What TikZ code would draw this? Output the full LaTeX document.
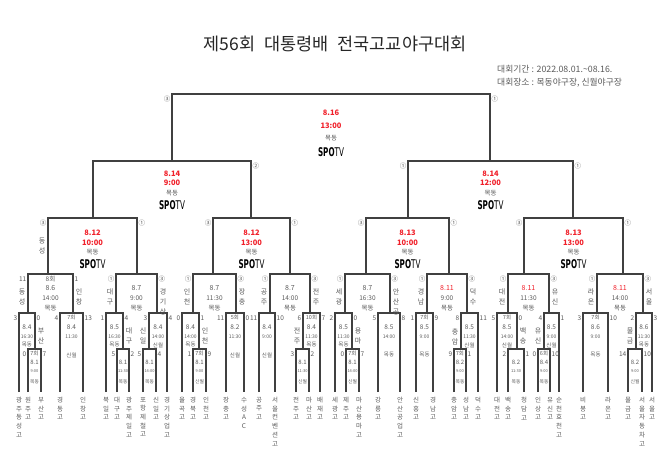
\documentclass[tikz,border=0pt]{standalone}
\usepackage{fontspec}
\setmainfont{Noto Sans CJK KR}
\newfontfamily\spofont[FakeStretch=0.6]{DejaVu Sans}
\usetikzlibrary{positioning}

\definecolor{lineg}{HTML}{404040}
\definecolor{txtg}{HTML}{5A5A5A}
\definecolor{datered}{HTML}{F0202A}

% one game: name, left x, right x, top y, left foot, right foot, left score, right score
\newcommand{\gm}[8]{%
  \coordinate (#1) at ({(#2+#3)/2},#4);
  \draw[bracket] (#2,#5) -- (#2,#4) -- (#3,#4) -- (#3,#6);
  \node[score,anchor=east] (#1-ls) at (#2-1.5,#4+5.5) {#7};
  \node[score,anchor=west] (#1-rs) at (#3+1.5,#4+5.5) {#8};}
\newcommand{\spotv}{{\spofont\bfseries SPO}{\spofont TV}}

\begin{document}
\begin{tikzpicture}[x=1pt,y=-1pt]
	\tikzstyle{bracket}=[draw=lineg, line width=1.3pt]
	\tikzstyle{score}=[inner sep=0, text=txtg, font=\fontsize{6.5}{7}\selectfont]
	\tikzstyle{bigred}=[inner sep=0, text=datered, font=\fontsize{7.5}{8}\selectfont\bfseries]
	\tikzstyle{bigven}=[inner sep=0, text=txtg, font=\fontsize{6.5}{7}\selectfont]
	\tikzstyle{logo}=[inner sep=0, text=black, font=\fontsize{12}{12}\selectfont]
	\tikzstyle{mdate}=[inner sep=0, font=\fontsize{7}{8}\selectfont]
	\tikzstyle{mtime}=[inner sep=0, text=txtg, font=\fontsize{6.5}{7}\selectfont]
	\tikzstyle{mven}=[inner sep=0, text=txtg, font=\fontsize{6.5}{7}\selectfont]
	\tikzstyle{sdate}=[inner sep=0, text=txtg, font=\fontsize{6.5}{7}\selectfont]
	\tikzstyle{stime}=[inner sep=0, text=txtg, font=\fontsize{5}{6}\selectfont]
	\tikzstyle{sven}=[inner sep=0, text=txtg, font=\fontsize{5.5}{6}\selectfont]
	\tikzstyle{tdate}=[inner sep=0, text=txtg, font=\fontsize{6}{7}\selectfont]
	\tikzstyle{ttime}=[inner sep=0, text=txtg, font=\fontsize{4}{5}\selectfont]
	\tikzstyle{tven}=[inner sep=0, text=txtg, font=\fontsize{4.8}{5}\selectfont]
	\tikzstyle{snote}=[inner sep=0, text=txtg, font=\fontsize{5.5}{6}\selectfont]
	\tikzstyle{winner}=[inner sep=0, anchor=north, align=center, text=txtg, font=\fontsize{7}{10}\selectfont]
	\tikzstyle{team}=[inner sep=0, anchor=north, align=center, text=txtg, font=\fontsize{6.5}{8.7}\selectfont]
	\tikzstyle{info}=[inner sep=0, text=txtg, font=\fontsize{8.8}{10}\selectfont]
	\useasboundingbox (0,0) rectangle (670,459);

	% title
	\node[text=black!85, font=\fontsize{17.5}{19}\selectfont] (title) at (335,44) {제56회\hspace{9pt}대통령배\hspace{9pt}전국고교야구대회};
	\node[info, anchor=west] (period) at (497,69) {대회기간 : 2022.08.01.\textasciitilde08.16.};
	\node[info, below=5pt of period.south west, anchor=north west] (place) {대회장소 : 목동야구장, 신월야구장};

	% final, semis, quarters
	\gm{fin}{172}{490}{94}{161}{161}{③}{①}
	\gm{sfl}{93}{251}{161}{218}{218}{}{②}
	\gm{sfr}{408}{573}{161}{218}{218}{①}{①}
	\gm{qf1}{48}{137}{218}{274}{274}{③}{①}
	\gm{qf2}{213}{290}{218}{274}{274}{③}{①}
	\gm{qf3}{366}{449}{218}{274}{274}{③}{①}
	\gm{qf4}{524}{623}{218}{274}{274}{③}{①}

	% round of 16
	\gm{r16a}{28}{73}{274}{313}{313}{11}{1}
	\gm{r16b}{116}{157}{274}{313}{313}{①}{③}
	\gm{r16c}{193}{236}{274}{313}{313}{①}{③}
	\gm{r16d}{270}{310}{274}{313}{313}{①}{③}
	\gm{r16e}{345}{390}{274}{313}{313}{①}{③}
	\gm{r16f}{427}{467}{274}{313}{313}{①}{③}
	\gm{r16g}{508}{549}{274}{313}{313}{①}{③}
	\gm{r16h}{597}{643}{274}{313}{313}{①}{③}

	% round of 32
	\gm{r32a}{19}{35}{313}{392}{349}{3}{0}
	\gm{r32b}{60}{83}{313}{392}{392}{4}{13}
	\gm{r32c}{106}{123}{313}{392}{349}{1}{4}
	\gm{r32d}{149}{167}{313}{349}{392}{3}{4}
	\gm{r32e}{182}{199}{313}{392}{349}{0}{1}
	\gm{r32f}{226}{244}{313}{392}{392}{11}{0}
	\gm{r32g}{259}{275}{313}{392}{392}{11}{10}
	\gm{r32h}{303}{320}{313}{349}{392}{6}{7}
	\gm{r32i}{335}{352}{313}{392}{349}{2}{0}
	\gm{r32j}{378}{400}{313}{392}{392}{5}{8}
	\gm{r32k}{416}{433}{313}{392}{392}{1}{9}
	\gm{r32l}{461}{478}{313}{349}{392}{8}{11}
	\gm{r32m}{497}{517}{313}{392}{349}{5}{0}
	\gm{r32n}{544}{559}{313}{349}{392}{4}{1}
	\gm{r32o}{583}{608}{313}{392}{392}{3}{10}
	\gm{r32p}{636}{652}{313}{349}{392}{2}{3}

	% first round
	\gm{r64a}{28}{41}{349}{392}{392}{0}{7}
	\gm{r64c}{117}{129}{349}{392}{392}{5}{2}
	\gm{r64d}{143}{156}{349}{392}{392}{5}{4}
	\gm{r64e}{193}{206}{349}{392}{392}{1}{9}
	\gm{r64h}{296}{309}{349}{392}{392}{3}{2}
	\gm{r64i}{346}{359}{349}{392}{392}{0}{7}
	\gm{r64l}{454}{466}{349}{392}{392}{9}{1}
	\gm{r64m}{508}{524}{349}{392}{392}{2}{1}
	\gm{r64n}{538}{550}{349}{392}{392}{0}{10}
	\gm{r64p}{628}{642}{349}{392}{392}{14}{10}

	% broadcast games
	\foreach \gn/\gd/\gt/\ga/\gb/\gc/\ge in {fin/8.16/13:00/19/32/44/58, sfl/8.14/9:00/13/22/32/44, sfr/8.14/12:00/13/22/32/44,
		qf1/8.12/10:00/15/25/34/46, qf2/8.12/13:00/15/25/34/46, qf3/8.13/10:00/15/25/34/46, qf4/8.13/13:00/15/25/34/46}{
		\node[bigred] (\gn-d) at ([yshift=-\ga pt]\gn) {\gd};
		\node[bigred] (\gn-t) at ([yshift=-\gb pt]\gn) {\gt};
		\node[bigven] (\gn-v) at ([yshift=-\gc pt]\gn) {목동};
		\node[logo] (\gn-tv) at ([yshift=-\ge pt]\gn) {\spotv};
	}

	\foreach \gn/\gcol/\gd/\gt in {r16a/txtg/8.6/14:00, r16b/txtg/8.7/9:00, r16c/txtg/8.7/11:30, r16d/txtg/8.7/14:00,
		r16e/txtg/8.7/16:30, r16f/datered/8.11/9:00, r16g/datered/8.11/11:30, r16h/datered/8.11/14:00}{
		\node[mdate, text=\gcol] (\gn-d) at ([yshift=-14pt]\gn) {\gd};
		\node[mtime] (\gn-t) at ([yshift=-24pt]\gn) {\gt};
		\node[mven] (\gn-v) at ([yshift=-34pt]\gn) {목동};
	}

	\foreach \gn/\gd/\gt/\gv/\gy in {r32a/8.4/16:30/목동/32, r32b/8.4/11:30/신월/42, r32c/8.5/16:30/목동/32, r32d/8.4/14:00/신월/32,
		r32e/8.4/14:00/목동/32, r32f/8.2/11:30/신월/42, r32g/8.4/9:00/신월/42, r32h/8.4/11:30/목동/32,
		r32i/8.5/11:30/목동/32, r32j/8.5/14:00/목동/42, r32k/8.5/9:00/목동/42, r32l/8.5/11:30/신월/32,
		r32m/8.5/14:00/신월/32, r32n/8.5/9:00/신월/32, r32o/8.6/9:00/목동/42, r32p/8.6/11:30/목동/32}{
		\node[sdate] (\gn-d) at ([yshift=-14pt]\gn) {\gd};
		\node[stime] (\gn-t) at ([yshift=-24pt]\gn) {\gt};
		\node[sven] (\gn-v) at ([yshift=-\gy pt]\gn) {\gv};
	}

	\foreach \gn/\gd/\gt/\gv in {r64a/8.1/9:00/목동, r64c/8.1/11:30/목동, r64d/8.1/14:00/목동, r64e/8.1/9:00/신월,
		r64h/8.1/11:30/신월, r64i/8.1/14:00/신월, r64l/8.2/9:00/목동, r64m/8.2/11:30/목동,
		r64n/8.4/9:00/목동, r64p/8.2/9:00/신월}{
		\node[tdate] (\gn-d) at ([yshift=-13pt]\gn) {\gd};
		\node[ttime] (\gn-t) at ([yshift=-22pt]\gn) {\gt};
		\node[tven] (\gn-v) at ([yshift=-33pt]\gn) {\gv};
	}

	% shortened games
	\node[mtime] (r16a-n) at ([yshift=-5pt]r16a) {8회};
	\foreach \gn/\gx in {r32b/7회, r32f/5회, r32h/10회, r32k/7회, r32m/7회, r32o/7회,
		r64a/7회, r64e/7회, r64i/7회, r64l/7회, r64n/6회}
		\node[snote] (\gn-n) at ([yshift=-4.5pt]\gn) {\gx};

	% who went up each line
	\foreach \gx/\gy/\gn/\gt in {42/238/w1/동\\성,
		22/288.5/w2/동\\성, 79/288.5/w3/인\\창, 110/288.5/w4/대\\구, 163/288.5/w5/경\\기\\상,
		187/288.5/w6/인\\천, 242/288.5/w7/장\\충, 264/288.5/w8/공\\주, 316/288.5/w9/전\\주,
		339/288.5/w10/세\\광, 396/288.5/w11/안\\산\\공, 421/288.5/w12/경\\남, 473/288.5/w13/덕\\수,
		502/288.5/w14/대\\전, 555/288.5/w15/유\\신, 591/288.5/w16/라\\온, 649/288.5/w17/서\\울,
		41/328/w18/부\\산, 129/328/w19/대\\구, 143/328/w20/신\\일, 205/328/w21/인\\천, 297/328/w22/전\\주,
		358/328/w23/용\\마, 455/328/w24/충\\암, 523/328/w25/백\\송, 538/328/w26/유\\신, 630/328/w27/물\\금}
		\node[winner] (\gn) at (\gx,\gy) {\gt};

	% schools
	\foreach \gx/\gn/\gt in {19/t1/광\\주\\동\\성\\고, 28/t2/원\\주\\고, 41/t3/부\\산\\고, 60/t4/경\\동\\고, 83/t5/인\\창\\고,
		106/t6/북\\일\\고, 117/t7/대\\구\\고, 129/t8/광\\주\\제\\일\\고, 143/t9/포\\항\\제\\철\\고, 156/t10/신\\일\\고,
		167/t11/경\\기\\상\\업\\고, 182/t12/율\\곡\\고, 193/t13/경\\북\\고, 206/t14/인\\천\\고, 226/t15/장\\충\\고,
		244/t16/수\\성\\A\\C, 259/t17/공\\주\\고, 275/t18/서\\울\\컨\\벤\\션\\고, 296/t19/전\\주\\고, 309/t20/마\\산\\고,
		320/t21/배\\재\\고, 335/t22/세\\광\\고, 346/t23/제\\주\\고, 359/t24/마\\산\\용\\마\\고, 378/t25/강\\릉\\고,
		400/t26/안\\산\\공\\업\\고, 416/t27/신\\흥\\고, 433/t28/경\\남\\고, 454/t29/충\\암\\고, 466/t30/성\\남\\고,
		478/t31/덕\\수\\고, 497/t32/대\\전\\고, 508/t33/백\\송\\고, 524/t34/청\\담\\고, 538/t35/인\\상\\고,
		550/t36/유\\신\\고, 559/t37/순\\천\\효\\천\\고, 583/t38/비\\봉\\고, 608/t39/라\\온\\고, 628/t40/물\\금\\고,
		642/t41/서\\울\\자\\동\\차\\고, 652/t42/서\\울\\고}
		\node[team] (\gn) at (\gx,397) {\gt};
\end{tikzpicture}
\end{document}
